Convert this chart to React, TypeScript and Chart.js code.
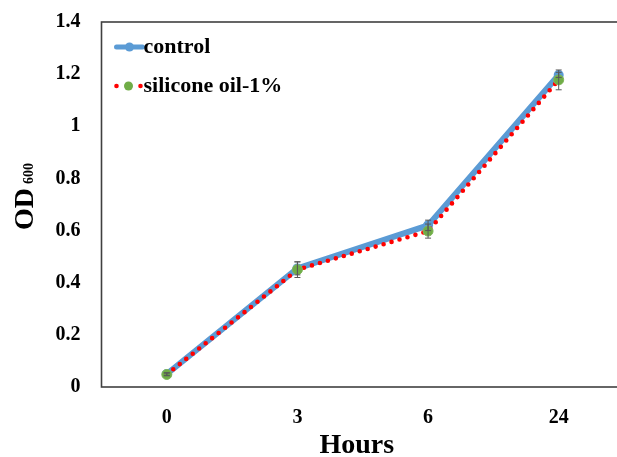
import React, { useEffect, useRef } from "react";
import { Chart, registerables } from "chart.js";

Chart.register(...registerables);

const categories = ["0", "3", "6", "24"];
const controlValues = [0.05, 0.455, 0.62, 1.197];
const siliconeValues = [0.048, 0.45, 0.598, 1.178];
const controlErrors = [0.005, 0.025, 0.02, 0.01];
const siliconeErrors = [0.005, 0.03, 0.027, 0.038];
const yTicksMin = 0;
const yTicksMax = 1.4;
const yTickStep = 0.2;
const seriesNames = ["control", "silicone oil-1%"];
const xTitle = "Hours";
const yTitleMain = "OD";
const yTitleSub = "600";

const FONT = "'Liberation Serif', 'Times New Roman', serif";
const BLUE = "#5B9BD5";
const RED = "#FF0000";
const GREEN = "#70AD47";

export default function App() {
  const ref = useRef<HTMLCanvasElement | null>(null);

  useEffect(() => {
    if (!ref.current) return;

    const decor = {
      id: "decor",
      afterDatasetsDraw(chart: any) {
        const ctx = chart.ctx;
        const xs = chart.scales.x;
        const ys = chart.scales.y;
        ctx.save();
        ctx.strokeStyle = "#595959";
        ctx.lineWidth = 1;
        const drawErr = (vals: number[], errs: number[]) => {
          vals.forEach((v, i) => {
            const x = xs.getPixelForValue(i);
            const y1 = ys.getPixelForValue(v - errs[i]);
            const y2 = ys.getPixelForValue(v + errs[i]);
            ctx.beginPath();
            ctx.moveTo(x, y1);
            ctx.lineTo(x, y2);
            ctx.moveTo(x - 3, y1);
            ctx.lineTo(x + 3, y1);
            ctx.moveTo(x - 3, y2);
            ctx.lineTo(x + 3, y2);
            ctx.stroke();
          });
        };
        drawErr(controlValues, controlErrors);
        drawErr(siliconeValues, siliconeErrors);
        ctx.restore();
      },
      afterDraw(chart: any) {
        const ctx = chart.ctx;
        const a = chart.chartArea;
        ctx.save();
        ctx.strokeStyle = "#404040";
        ctx.lineWidth = 1.6;
        ctx.strokeRect(a.left, a.top, a.right - a.left, a.bottom - a.top);

        ctx.fillStyle = "#000";
        ctx.font = `bold 28px ${FONT}`;
        ctx.textAlign = "center";
        ctx.textBaseline = "middle";
        ctx.fillText(xTitle, (a.left + a.right) / 2 - 6, 446);

        ctx.save();
        ctx.translate(33, 230);
        ctx.rotate(-Math.PI / 2);
        ctx.textAlign = "left";
        ctx.textBaseline = "alphabetic";
        ctx.font = `bold 28px ${FONT}`;
        ctx.fillText(yTitleMain, 0, 0);
        const w = ctx.measureText(yTitleMain).width;
        ctx.font = `bold 14px ${FONT}`;
        ctx.fillText(yTitleSub, w + 4, 0);
        ctx.restore();

        const lx = a.left + 15;
        const items = [
          { y: 47, name: seriesNames[0] },
          { y: 86, name: seriesNames[1] },
        ];
        ctx.strokeStyle = BLUE;
        ctx.lineWidth = 5;
        ctx.lineCap = "round";
        ctx.beginPath();
        ctx.moveTo(lx, items[0].y);
        ctx.lineTo(lx + 26, items[0].y);
        ctx.stroke();
        ctx.fillStyle = BLUE;
        ctx.beginPath();
        ctx.arc(lx + 13, items[0].y, 4.5, 0, Math.PI * 2);
        ctx.fill();
        ctx.fillStyle = RED;
        [lx, lx + 24].forEach((dx) => {
          ctx.beginPath();
          ctx.arc(dx, items[1].y, 2.3, 0, Math.PI * 2);
          ctx.fill();
        });
        ctx.fillStyle = GREEN;
        ctx.beginPath();
        ctx.arc(lx + 12, items[1].y, 4.5, 0, Math.PI * 2);
        ctx.fill();

        ctx.fillStyle = "#000";
        ctx.font = `bold 22px ${FONT}`;
        ctx.textAlign = "left";
        ctx.textBaseline = "middle";
        items.forEach((it) => ctx.fillText(it.name, lx + 27, it.y));
        ctx.restore();
      },
    };

    const chart = new Chart(ref.current, {
      type: "line",
      data: {
        labels: categories,
        datasets: [
          {
            label: seriesNames[0],
            data: controlValues,
            borderColor: BLUE,
            backgroundColor: BLUE,
            borderWidth: 6,
            pointRadius: 5,
            pointBackgroundColor: BLUE,
            pointBorderColor: BLUE,
            pointBorderWidth: 0,
            tension: 0,
            order: 2,
          },
          {
            label: seriesNames[1],
            data: siliconeValues,
            borderColor: RED,
            backgroundColor: GREEN,
            borderWidth: 4.6,
            borderDash: [0, 8.3],
            borderCapStyle: "round",
            pointRadius: 5,
            pointBackgroundColor: GREEN,
            pointBorderColor: "#7FB55A",
            pointBorderWidth: 1,
            tension: 0,
            order: 1,
          },
        ],
      },
      options: {
        animation: false,
        responsive: false,
        layout: { padding: { top: 22, right: 6, left: 0, bottom: 0 } },
        plugins: {
          legend: { display: false },
          tooltip: { enabled: false },
        },
        scales: {
          x: {
            type: "category",
            offset: true,
            grid: { display: false, drawTicks: false },
            border: { display: false },
            ticks: {
              padding: 19,
              color: "#000",
              font: { family: FONT, size: 20, weight: "bold" },
            },
            afterFit(scale: any) {
              scale.height = 70;
              scale.paddingLeft = 0;
              scale.paddingRight = 0;
            },
          },
          y: {
            min: yTicksMin,
            max: yTicksMax,
            grid: { display: false, drawTicks: false },
            border: { display: false },
            ticks: {
              stepSize: yTickStep,
              padding: 21,
              color: "#000",
              font: { family: FONT, size: 20, weight: "bold" },
              callback: (v: any) => String(Math.round(Number(v) * 10) / 10),
            },
            afterFit(scale: any) {
              scale.width = 101.5;
              scale.paddingTop = 0;
              scale.paddingBottom = 0;
            },
          },
        },
      },
      plugins: [decor],
    } as any);

    return () => chart.destroy();
  }, []);

  return (
    <div
      style={{
        position: "fixed",
        left: 0,
        top: 0,
        width: 617,
        height: 457,
        overflow: "hidden",
        background: "#fff",
      }}
    >
      <canvas ref={ref} width={630} height={457} style={{ display: "block" }} />
    </div>
  );
}
